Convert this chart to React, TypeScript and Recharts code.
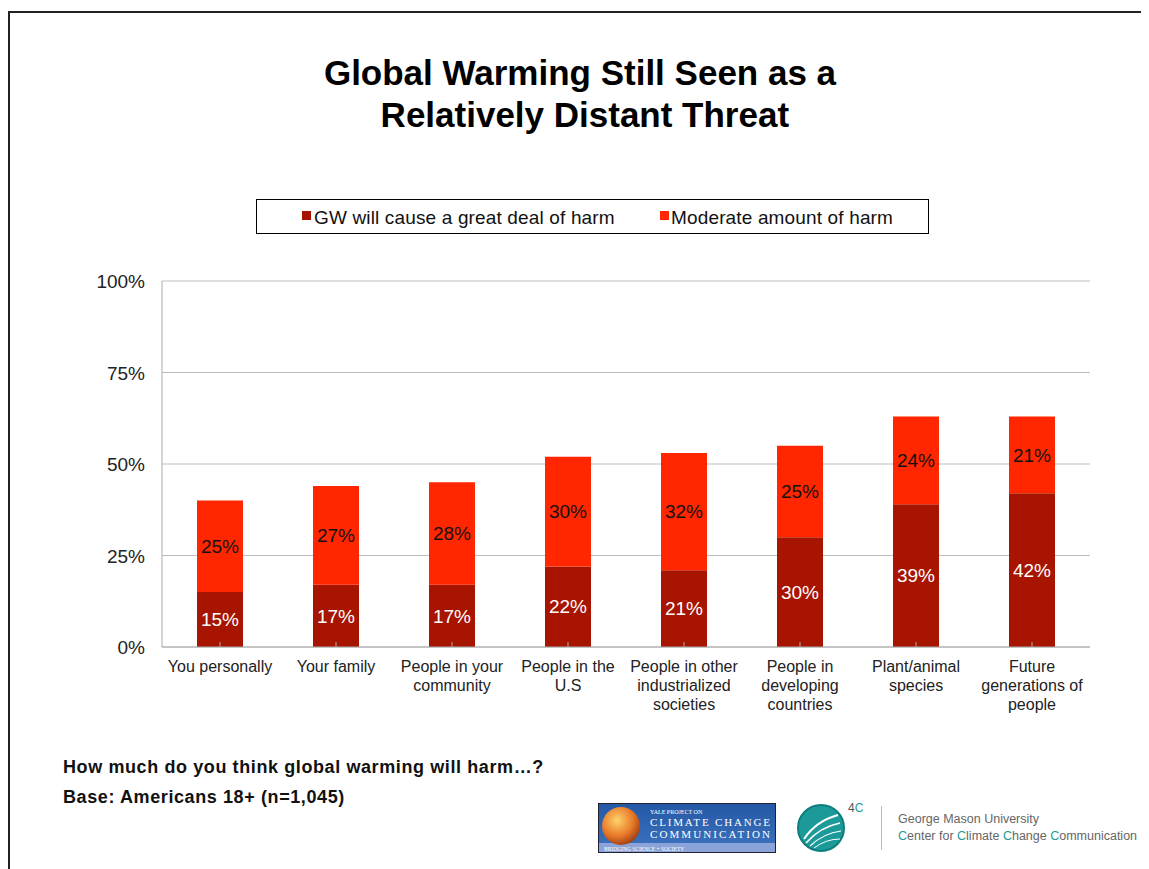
import React from 'react';
import { BarChart, Bar, XAxis, YAxis, CartesianGrid, LabelList } from 'recharts';

const FONT = '"Liberation Sans", Arial, Helvetica, sans-serif';

const CATEGORIES = [
  'You personally',
  'Your family',
  'People in your\ncommunity',
  'People in the\nU.S',
  'People in other\nindustrialized\nsocieties',
  'People in\ndeveloping\ncountries',
  'Plant/animal\nspecies',
  'Future\ngenerations of\npeople',
];
const GREAT_DEAL = [15, 17, 17, 22, 21, 30, 39, 42];
const MODERATE = [25, 27, 28, 30, 32, 25, 24, 21];
const Y_TICKS = [0, 25, 50, 75, 100];

const SERIES_NAMES = ['GW will cause a great deal of harm', 'Moderate amount of harm'];
const DARK = '#A71400';
const BRIGHT = '#FF2600';

const data = CATEGORIES.map((name, i) => ({
  name,
  great: GREAT_DEAL[i],
  moderate: MODERATE[i],
}));

const XTick = (props: any) => {
  const { x, payload } = props;
  const lines = String(payload.value).split('\n');
  return (
    <g>
      {lines.map((line: string, i: number) => (
        <text
          key={i}
          x={x}
          y={387 + 25 + i * 19}
          textAnchor="middle"
          fontSize={16}
          fill="#222"
          fontFamily={FONT}
        >
          {line}
        </text>
      ))}
    </g>
  );
};

const YTick = (props: any) => {
  const { y, payload } = props;
  return (
    <text x={145} y={y + 7} textAnchor="end" fontSize={19} fill="#222" fontFamily={FONT}>
      {payload.value}%
    </text>
  );
};

const pct = (v: any) => `${v}%`;

const YaleLogo = () => (
  <svg width={178} height={50} style={{ position: 'absolute', left: 598, top: 803 }}>
    <defs>
      <linearGradient id="yaleBg" x1="0" y1="0" x2="0" y2="1">
        <stop offset="0" stopColor="#2458a6" />
        <stop offset="1" stopColor="#3e74c0" />
      </linearGradient>
      <radialGradient id="globe" cx="0.4" cy="0.35" r="0.7">
        <stop offset="0" stopColor="#ffd36a" />
        <stop offset="0.6" stopColor="#e8792a" />
        <stop offset="1" stopColor="#9a3a10" />
      </radialGradient>
    </defs>
    <rect x={0.5} y={0.5} width={177} height={49} fill="url(#yaleBg)" stroke="#223" />
    <rect x={1} y={40} width={176} height={9} fill="#8aa3d8" />
    <circle cx={23} cy={23} r={19} fill="url(#globe)" />
    <text x={52} y={11} fontSize={6} fill="#fff" fontFamily="Liberation Serif, serif">
      YALE PROJECT ON
    </text>
    <text x={52} y={23} fontSize={11} fill="#fff" fontFamily="Liberation Serif, serif" textLength={120}>
      CLIMATE CHANGE
    </text>
    <text x={52} y={35} fontSize={11} fill="#fff" fontFamily="Liberation Serif, serif" textLength={120}>
      COMMUNICATION
    </text>
    <text x={6} y={47.5} fontSize={5.5} fill="#fff" fontFamily="Liberation Serif, serif">
      BRIDGING SCIENCE + SOCIETY
    </text>
  </svg>
);

const FourCLogo = () => (
  <svg width={80} height={55} style={{ position: 'absolute', left: 794, top: 801 }}>
    <circle cx={27} cy={27} r={23} fill="#1c9a9a" stroke="#0f7d7d" strokeWidth={2} />
    <path d="M10 38 Q22 20 44 14" stroke="#fff" strokeWidth={2} fill="none" />
    <path d="M12 42 Q26 26 46 22" stroke="#fff" strokeWidth={1.5} fill="none" />
    <path d="M16 45 Q30 32 47 30" stroke="#fff" strokeWidth={1.2} fill="none" />
    <path d="M20 47 Q32 38 46 38" stroke="#fff" strokeWidth={1} fill="none" />
    <text x={54} y={11} fontSize={12} fill="#555" fontFamily={FONT}>
      4<tspan fill="#1c9a9a">C</tspan>
    </text>
  </svg>
);

export default function App() {
  return (
    <div
      style={{
        position: 'relative',
        width: 1149,
        height: 869,
        marginLeft: -8,
        marginTop: -8,
        background: '#fff',
        fontFamily: FONT,
        overflow: 'hidden',
      }}
    >
      {/* slide frame */}
      <div
        style={{
          position: 'absolute',
          left: 8,
          top: 11,
          width: 1160,
          height: 900,
          borderTop: '2px solid #222',
          borderLeft: '2px solid #222',
        }}
      />

      <div
        style={{
          position: 'absolute',
          left: 0,
          top: 52,
          width: 1160,
          textAlign: 'center',
          fontWeight: 'bold',
          fontSize: 35,
          lineHeight: '42px',
          color: '#000',
        }}
      >
        Global Warming Still Seen as a<br />
        &nbsp;Relatively Distant Threat
      </div>

      {/* legend */}
      <div
        style={{
          position: 'absolute',
          left: 256,
          top: 199,
          width: 671,
          height: 33,
          border: '1px solid #000',
          fontSize: 19,
          letterSpacing: 0.15,
          color: '#111',
        }}
      >
        <div style={{ position: 'absolute', left: 45, top: 11, width: 9, height: 9, background: DARK }} />
        <div style={{ position: 'absolute', left: 57, top: 7, whiteSpace: 'nowrap' }}>{SERIES_NAMES[0]}</div>
        <div style={{ position: 'absolute', left: 403, top: 11, width: 9, height: 9, background: BRIGHT }} />
        <div style={{ position: 'absolute', left: 414, top: 7, whiteSpace: 'nowrap' }}>{SERIES_NAMES[1]}</div>
      </div>

      <div style={{ position: 'absolute', left: 0, top: 260 }}>
        <BarChart
          width={1110}
          height={470}
          data={data}
          margin={{ top: 21, right: 20, left: 0, bottom: 0 }}
          barSize={46}
        >
          <CartesianGrid vertical={false} stroke="#bdbdbd" />
          <XAxis
            dataKey="name"
            height={83}
            interval={0}
            stroke="#aaa"
            tickSize={-5}
            tick={<XTick />}
          />
          <YAxis
            width={162}
            domain={[0, 100]}
            ticks={Y_TICKS}
            stroke="#aaa"
            tickLine={false}
            tick={<YTick />}
          />
          <Bar dataKey="great" name={SERIES_NAMES[0]} stackId="a" fill={DARK} isAnimationActive={false}>
            <LabelList dataKey="great" position="center" fill="#fff" fontSize={19} formatter={pct} />
          </Bar>
          <Bar dataKey="moderate" name={SERIES_NAMES[1]} stackId="a" fill={BRIGHT} isAnimationActive={false}>
            <LabelList dataKey="moderate" position="center" fill="#111" fontSize={19} formatter={pct} />
          </Bar>
        </BarChart>
      </div>

      <div style={{ position: 'absolute', left: 63, top: 757, fontSize: 18, letterSpacing: 0.6, fontWeight: 'bold', color: '#111' }}>
        How much do you think global warming will harm…?
      </div>
      <div style={{ position: 'absolute', left: 63, top: 787, fontSize: 18, letterSpacing: 0.6, fontWeight: 'bold', color: '#111' }}>
        Base: Americans 18+ (n=1,045)
      </div>

      <YaleLogo />
      <FourCLogo />
      <div style={{ position: 'absolute', left: 881, top: 806, width: 1, height: 44, background: '#bbb' }} />
      <div style={{ position: 'absolute', left: 898, top: 811, fontSize: 12.5, color: '#666', lineHeight: '17px', whiteSpace: 'nowrap' }}>
        George Mason University
        <br />
        <span style={{ color: '#1c9a9a' }}>C</span>enter for <span style={{ color: '#1c9a9a' }}>C</span>limate{' '}
        <span style={{ color: '#1c9a9a' }}>C</span>hange <span style={{ color: '#1c9a9a' }}>C</span>ommunication
      </div>
    </div>
  );
}
